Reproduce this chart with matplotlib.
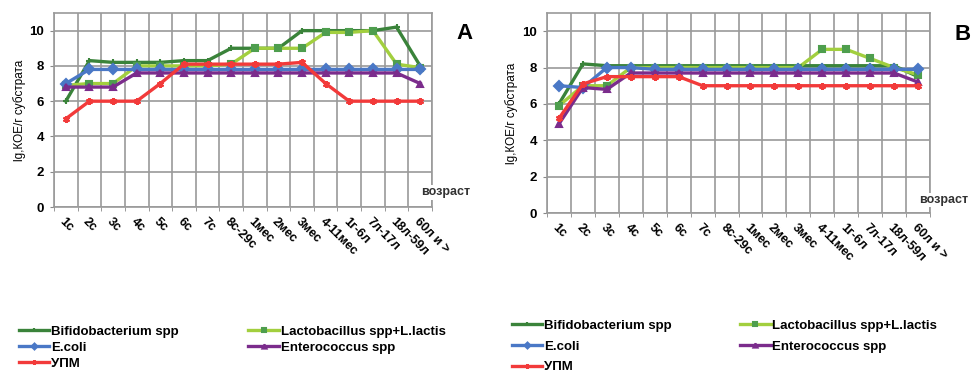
import numpy as np
import matplotlib
matplotlib.use('Agg')
import matplotlib.pyplot as plt

plt.rcParams['font.family'] = ['Liberation Sans', 'DejaVu Sans']

# age groups on the x axis
ages = ['1с', '2с', '3с', '4с', '5с', '6с', '7с', '8с-29с', '1мес', '2мес',
        '3мес', '4-11мес', '1г-6л', '7л-17л', '18л-59л', '60л и >']

# panel A
bifido_a = [6.0, 8.3, 8.2, 8.2, 8.2, 8.3, 8.3, 9.0, 9.0, 9.0, 10.0, 10.0, 10.0, 10.0, 10.2, 8.0]
lacto_a = [6.9, 7.0, 7.0, 8.0, 8.0, 8.0, 8.0, 8.1, 9.0, 9.0, 9.0, 9.9, 9.9, 10.0, 8.1, 7.9]
ecoli_a = [7.0, 7.8, 7.8, 7.8, 7.8, 7.8, 7.8, 7.8, 7.8, 7.8, 7.8, 7.8, 7.8, 7.8, 7.8, 7.8]
entero_a = [6.8, 6.8, 6.8, 7.6, 7.6, 7.6, 7.6, 7.6, 7.6, 7.6, 7.6, 7.6, 7.6, 7.6, 7.6, 7.0]
upm_a = [5.0, 6.0, 6.0, 6.0, 7.0, 8.1, 8.1, 8.1, 8.1, 8.1, 8.2, 7.0, 6.0, 6.0, 6.0, 6.0]

# panel B
bifido_b = [6.0, 8.2, 8.1, 8.1, 8.1, 8.1, 8.1, 8.1, 8.1, 8.1, 8.1, 8.1, 8.1, 8.1, 8.1, 7.5]
lacto_b = [5.9, 7.0, 7.0, 8.0, 8.0, 8.0, 8.0, 8.0, 8.0, 8.0, 8.0, 9.0, 9.0, 8.5, 8.0, 7.6]
ecoli_b = [7.0, 6.9, 8.0, 8.0, 7.9, 7.9, 7.9, 7.9, 7.9, 7.9, 7.9, 7.9, 7.9, 7.9, 7.9, 7.9]
entero_b = [4.9, 6.9, 6.8, 7.7, 7.7, 7.7, 7.7, 7.7, 7.7, 7.7, 7.7, 7.7, 7.7, 7.7, 7.7, 7.2]
upm_b = [5.2, 7.1, 7.5, 7.5, 7.5, 7.5, 7.0, 7.0, 7.0, 7.0, 7.0, 7.0, 7.0, 7.0, 7.0, 7.0]

names = ['Bifidobacterium spp', 'Lactobacillus spp+L.lactis', 'E.coli', 'Enterococcus spp', 'УПМ']
colors = ['#3a833a', '#a2cf3e', '#4a78c6', '#7b2c8c', '#f23a3a']
marker_colors = ['#3a833a', '#4e9e4e', '#4a78c6', '#7b2c8c', '#f23a3a']
markers = ['+', 's', 'D', '^', (6, 2, 0)]
draw_order = [1, 0, 2, 3, 4]


def panel(ax, series, letter, vlabel_y):
    x = np.arange(len(ages))
    lines = {}
    for i in draw_order:
        ln, = ax.plot(x, series[i], color=colors[i], lw=2.4, marker=markers[i],
                      ms=5, mfc=marker_colors[i], mec=marker_colors[i], mew=1.5,
                      zorder=3 + i)
        lines[i] = ln
    ax.set_xlim(-0.5, len(ages) - 0.5)
    ax.set_ylim(0, 11)
    ax.set_yticks([0, 2, 4, 6, 8, 10])
    ax.set_yticklabels(['0', '2', '4', '6', '8', '10'], fontsize=9.5, fontweight='bold')
    # gridlines sit between the categories
    ax.set_xticks(np.arange(len(ages) + 1) - 0.5, minor=True)
    ax.set_xticks(x)
    ax.set_xticklabels(ages, rotation=-45, ha='left', va='top',
                       rotation_mode='anchor', fontsize=9, fontweight='bold')
    ax.tick_params(axis='x', which='major', length=0, pad=6)
    ax.tick_params(axis='x', which='minor', length=3, color='#888888')
    ax.tick_params(axis='y', length=3, color='#888888', pad=4)
    ax.grid(True, which='minor', axis='x', color='#9a9a9a', lw=1.2)
    ax.grid(True, which='major', axis='y', color='#9a9a9a', lw=1.2)
    ax.set_axisbelow(True)
    for s in ax.spines.values():
        s.set_color('#9a9a9a')
        s.set_linewidth(1.2)
    ax.set_ylabel('lg,КОЕ/г субстрата', fontsize=8.5)
    ax.yaxis.set_label_coords(-0.075, 0.5)
    ax.text(1.035, vlabel_y, 'возраст', transform=ax.transAxes, fontsize=9,
            fontweight='bold', ha='center', va='center', color='#333333',
            bbox=dict(facecolor='white', edgecolor='none', pad=1))
    ax.text(1.085, 0.895, letter, transform=ax.transAxes, fontsize=16,
            fontweight='bold', ha='center', va='center')
    return lines


fig = plt.figure(figsize=(9.75, 3.8), dpi=100)
ax_a = fig.add_axes([54 / 975, 1 - 207 / 380, 378 / 975, 194 / 380])
ax_b = fig.add_axes([547 / 975, 1 - 213 / 380, 383 / 975, 200 / 380])

lines_a = panel(ax_a, [bifido_a, lacto_a, ecoli_a, entero_a, upm_a], 'A', 0.075)
lines_b = panel(ax_b, [bifido_b, lacto_b, ecoli_b, entero_b, upm_b], 'B', 0.065)

# legend column order: left column Bifido, E.coli, УПМ; right column Lacto, Entero
leg_order = [0, 2, 4, 1, 3]
fig.legend([lines_a[i] for i in leg_order], [names[i] for i in leg_order],
           loc='upper left', bbox_to_anchor=(12 / 975, 1 - 319 / 380), ncol=2,
           frameon=False, handlelength=2.3, handletextpad=0.15,
           columnspacing=5.3, labelspacing=0.28, borderpad=0,
           prop={'weight': 'bold', 'size': 9.5}, markerscale=0.6)
fig.legend([lines_b[i] for i in leg_order], [names[i] for i in leg_order],
           loc='upper left', bbox_to_anchor=(505 / 975, 1 - 313 / 380), ncol=2,
           frameon=False, handlelength=2.3, handletextpad=0.15,
           columnspacing=5.2, labelspacing=0.65, borderpad=0,
           prop={'weight': 'bold', 'size': 9.5}, markerscale=0.6)

fig.savefig('out.png', dpi=100)
